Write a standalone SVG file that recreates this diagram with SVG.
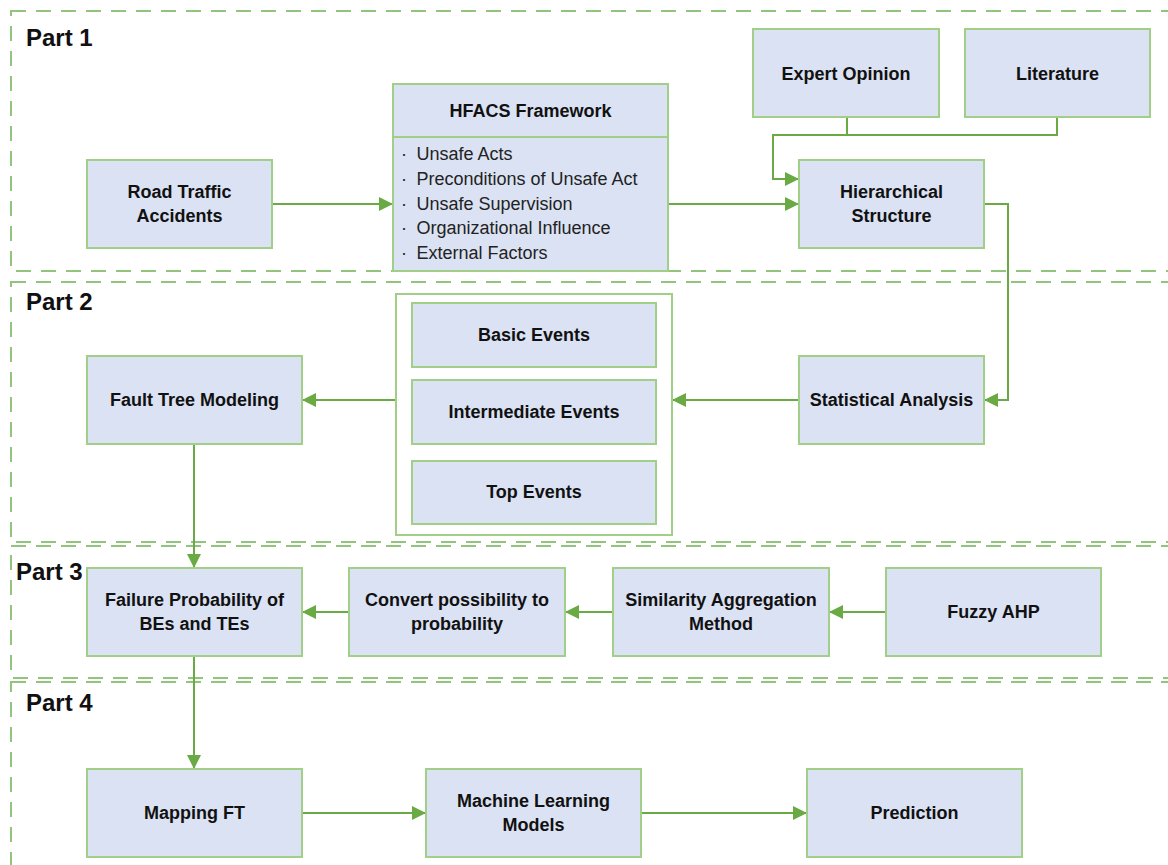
<svg xmlns="http://www.w3.org/2000/svg" width="1168" height="865" viewBox="0 0 1168 865">
  <defs>
    <marker id="arrow" markerUnits="userSpaceOnUse" markerWidth="15" markerHeight="15" refX="14" refY="7.5" orient="auto">
      <path d="M0,0.5 L14,7.5 L0,14.5 z" fill="#6aaa45"/>
    </marker>
    <style>
      .frame { fill: none; stroke: #93c47d; stroke-width: 2; stroke-dasharray: 15 10; }
      .part { font-family: "Liberation Sans", Arial, sans-serif; font-weight: bold; font-size: 24px; fill: #111; }
      .box { fill: #dbe2f3; stroke: #a2cf88; stroke-width: 2; }
      .group { fill: #ffffff; stroke: #a2cf88; stroke-width: 2; }
      .label { font-family: "Liberation Sans", Arial, sans-serif; font-weight: bold; font-size: 18px; fill: #111; text-anchor: middle; }
      .item { font-family: "Liberation Sans", Arial, sans-serif; font-size: 18px; fill: #222; }
      .conn { fill: none; stroke: #6aaa45; stroke-width: 2; }
      .conn.arr { marker-end: url(#arrow); }
    </style>
  </defs>
  <rect width="1168" height="865" fill="#ffffff"/>

  <!-- section frames -->
  <g id="frames">
    <rect class="frame" x="11" y="11" width="1180" height="260"/>
    <rect class="frame" x="11" y="282" width="1180" height="260"/>
    <rect class="frame" x="11" y="546" width="1180" height="132"/>
    <rect class="frame" x="11" y="682" width="1180" height="200"/>
    <text class="part" x="26" y="46">Part 1</text>
    <text class="part" x="26" y="310">Part 2</text>
    <text class="part" x="16" y="580">Part 3</text>
    <text class="part" x="26" y="711">Part 4</text>
  </g>

  <!-- connectors -->
  <g id="connectors">
    <path class="conn arr" d="M272,204 H393"/>
    <path class="conn arr" d="M668,204 H799"/>
    <path class="conn arr" d="M847,117 V135 H773 V179 H799"/>
    <path class="conn" d="M1057,117 V135 H847"/>
    <path class="conn arr" d="M984,204 H1008 V400 H984"/>
    <path class="conn arr" d="M799,400 H672"/>
    <path class="conn arr" d="M396,400 H302"/>
    <path class="conn arr" d="M194,444 V568"/>
    <path class="conn arr" d="M349,612 H302"/>
    <path class="conn arr" d="M613,612 H565"/>
    <path class="conn arr" d="M886,612 H829"/>
    <path class="conn arr" d="M194,656 V769"/>
    <path class="conn arr" d="M302,813 H426"/>
    <path class="conn arr" d="M641,813 H807"/>
  </g>

  <!-- Part 1 -->
  <g id="road-traffic-accidents">
    <rect class="box" x="87" y="160" width="185" height="88"/>
    <text class="label" x="179.5" y="198">Road Traffic</text>
    <text class="label" x="179.5" y="222">Accidents</text>
  </g>
  <g id="hfacs-framework">
    <rect class="box" x="393" y="84" width="275" height="187"/>
    <line x1="393" y1="137" x2="668" y2="137" stroke="#a2cf88" stroke-width="2"/>
    <text class="label" x="530.5" y="117">HFACS Framework</text>
    <g class="item">
      <text x="401" y="160">·</text><text x="416.5" y="160">Unsafe Acts</text>
      <text x="401" y="185">·</text><text x="416.5" y="185">Preconditions of Unsafe Act</text>
      <text x="401" y="210">·</text><text x="416.5" y="210">Unsafe Supervision</text>
      <text x="401" y="234">·</text><text x="416.5" y="234">Organizational Influence</text>
      <text x="401" y="259">·</text><text x="416.5" y="259">External Factors</text>
    </g>
  </g>
  <g id="expert-opinion">
    <rect class="box" x="753" y="29" width="186" height="88"/>
    <text class="label" x="846" y="80">Expert Opinion</text>
  </g>
  <g id="literature">
    <rect class="box" x="965" y="29" width="185" height="88"/>
    <text class="label" x="1057.5" y="80">Literature</text>
  </g>
  <g id="hierarchical-structure">
    <rect class="box" x="799" y="160" width="185" height="88"/>
    <text class="label" x="891.5" y="198">Hierarchical</text>
    <text class="label" x="891.5" y="222">Structure</text>
  </g>

  <!-- Part 2 -->
  <g id="fault-tree-modeling">
    <rect class="box" x="87" y="356" width="215" height="88"/>
    <text class="label" x="194.5" y="406">Fault Tree Modeling</text>
  </g>
  <g id="events">
    <rect class="group" x="396" y="294" width="276" height="241"/>
    <rect class="box" x="412" y="303" width="244" height="64"/>
    <text class="label" x="534" y="341">Basic Events</text>
    <rect class="box" x="412" y="380" width="244" height="64"/>
    <text class="label" x="534" y="418">Intermediate Events</text>
    <rect class="box" x="412" y="461" width="244" height="63"/>
    <text class="label" x="534" y="498">Top Events</text>
  </g>
  <g id="statistical-analysis">
    <rect class="box" x="799" y="356" width="185" height="88"/>
    <text class="label" x="891.5" y="406">Statistical Analysis</text>
  </g>

  <!-- Part 3 -->
  <g id="failure-probability">
    <rect class="box" x="87" y="568" width="215" height="88"/>
    <text class="label" x="194.5" y="606">Failure Probability of</text>
    <text class="label" x="194.5" y="630">BEs and TEs</text>
  </g>
  <g id="convert-possibility">
    <rect class="box" x="349" y="568" width="216" height="88"/>
    <text class="label" x="457" y="606">Convert possibility to</text>
    <text class="label" x="457" y="630">probability</text>
  </g>
  <g id="similarity-aggregation">
    <rect class="box" x="613" y="568" width="216" height="88"/>
    <text class="label" x="721" y="606">Similarity Aggregation</text>
    <text class="label" x="721" y="630">Method</text>
  </g>
  <g id="fuzzy-ahp">
    <rect class="box" x="886" y="568" width="215" height="88"/>
    <text class="label" x="993.5" y="618">Fuzzy AHP</text>
  </g>

  <!-- Part 4 -->
  <g id="mapping-ft">
    <rect class="box" x="87" y="769" width="215" height="88"/>
    <text class="label" x="194.5" y="819">Mapping FT</text>
  </g>
  <g id="machine-learning-models">
    <rect class="box" x="426" y="769" width="215" height="88"/>
    <text class="label" x="533.5" y="807">Machine Learning</text>
    <text class="label" x="533.5" y="831">Models</text>
  </g>
  <g id="prediction">
    <rect class="box" x="807" y="769" width="215" height="88"/>
    <text class="label" x="914.5" y="819">Prediction</text>
  </g>
</svg>
